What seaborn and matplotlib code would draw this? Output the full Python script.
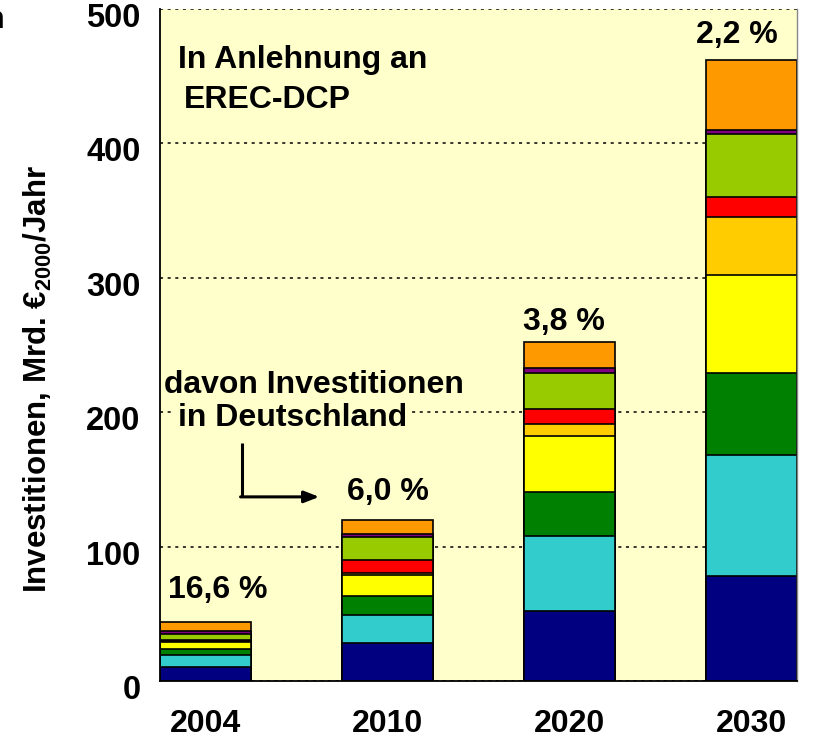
import pandas as pd
import numpy as np
import matplotlib
matplotlib.use("Agg")
import matplotlib.pyplot as plt
import matplotlib.transforms as mtransforms
import seaborn as sns

# Data, stacked bottom -> top
years = ["2004", "2010", "2020", "2030"]
slots = ["2004", " ", "2010", "  ", "2020", "   ", "2030"]  # empty slots between the bars
navy = [10.3, 28.0, 52.0, 78.3]
cyan = [9.0, 20.8, 56.0, 89.5]
green = [4.5, 14.4, 32.7, 61.0]
yellow = [5.2, 15.8, 41.7, 73.5]
gold = [0.8, 1.0, 8.6, 42.7]
red = [0.7, 10.0, 11.7, 15.0]
lightgreen = [4.2, 17.0, 26.8, 47.0]
purple = [2.7, 2.7, 3.5, 3.0]
orange = [6.2, 10.4, 19.3, 52.2]
shares = ["16,6 %", "6,0 %", "3,8 %", "2,2 %"]

layers = [
    ("navy", navy, "#000080"),
    ("cyan", cyan, "#33CCCC"),
    ("green", green, "#008000"),
    ("yellow", yellow, "#FFFF00"),
    ("gold", gold, "#FFCC00"),
    ("red", red, "#FF0000"),
    ("lightgreen", lightgreen, "#99CC00"),
    ("purple", purple, "#800080"),
    ("orange", orange, "#FF9900"),
]

df = pd.DataFrame({"Jahr": years})
running = np.zeros(len(years))
for name, vals, col in layers:
    running = running + np.array(vals)
    df[name] = running

sns.set_style("white")
plt.rcParams["font.family"] = ["Liberation Sans", "DejaVu Sans"]
plt.rcParams["font.weight"] = "bold"
plt.rcParams["text.color"] = "black"
plt.rcParams["axes.labelcolor"] = "black"
plt.rcParams["xtick.color"] = "black"
plt.rcParams["ytick.color"] = "black"
plt.rcParams["mathtext.fontset"] = "custom"
plt.rcParams["mathtext.rm"] = "Liberation Sans:bold"
plt.rcParams["mathtext.bf"] = "Liberation Sans:bold"

fig = plt.figure(figsize=(8.14, 7.42), dpi=100)
ax = fig.add_axes([0.1966, 0.0822, 0.7824, 0.9057])
ax.set_facecolor("#FFFFCC")

# draw cumulative bars from the top layer down so every segment shows
for name, vals, col in reversed(layers):
    sns.barplot(data=df, x="Jahr", y=name, order=slots, color=col, width=1.0,
                edgecolor="black", linewidth=1.2, saturation=1, errorbar=None, ax=ax)

ax.set_xlim(-0.5, 6.5)
ax.set_ylim(0, 500)
ax.set_axisbelow(True)
ax.set_yticks(np.arange(0, 501, 100))
ax.yaxis.grid(True, linestyle=(0, (2, 3)), color="black", linewidth=1.1)
ax.xaxis.grid(False)

# tick marks at slot borders, year labels at bar centres
ax.set_xticks(np.arange(-0.5, 6.6, 1.0))
ax.set_xticklabels([])
ax.set_xticks([0, 2, 4, 6], minor=True)
ax.set_xticklabels(years, minor=True, fontsize=23, fontweight="bold")
ax.tick_params(axis="x", which="major", length=8, width=1, color="black", direction="out")
ax.tick_params(axis="x", which="minor", length=0, pad=20)
ax.tick_params(axis="y", length=6, width=1, color="black", direction="out", pad=8,
               labelsize=23.5)
shift = mtransforms.ScaledTranslation(0, -6 / 100, fig.dpi_scale_trans)
for lab in ax.get_yticklabels():
    lab.set_fontweight("bold")
    lab.set_transform(lab.get_transform() + shift)

ax.set_xlabel("")
ax.set_ylabel(r"Investitionen, Mrd. €$_{\mathbf{2000}}$/Jahr", fontsize=22.5, fontweight="bold")
ax.yaxis.set_label_coords(-0.166, 0.45)

for side in ["left", "bottom"]:
    ax.spines[side].set_color("black")
    ax.spines[side].set_linewidth(1.3)
ax.spines["top"].set_visible(False)
ax.spines["right"].set_color("#888888")
ax.spines["right"].set_linewidth(1.0)

# annotations
ax.text(-0.30, 456, "In Anlehnung an", fontsize=23, fontweight="bold", va="baseline")
ax.text(-0.24, 426, "EREC-DCP", fontsize=23, fontweight="bold", va="baseline")

share_x = [0.13, 2.01, 3.94, 5.84]
share_y = [62, 135, 261, 475]
for xs, ys, s in zip(share_x, share_y, shares):
    ax.text(xs, ys, s, fontsize=23, fontweight="bold", ha="center", va="baseline",
            bbox=dict(facecolor="#FFFFCC", edgecolor="none", pad=1))

ax.text(-0.46, 214, "davon Investitionen", fontsize=23, fontweight="bold", va="baseline")
ax.text(-0.30, 190, "in Deutschland", fontsize=23, fontweight="bold", va="baseline",
        bbox=dict(facecolor="#FFFFCC", edgecolor="none", pad=3))

ax.plot([0.40, 0.40], [177, 137], color="black", linewidth=2.2, solid_capstyle="butt")
ax.annotate("", xy=(1.25, 137), xytext=(0.385, 137),
            arrowprops=dict(arrowstyle="-|>,head_length=0.9,head_width=0.35",
                            color="black", linewidth=2.2, shrinkA=0, shrinkB=0))

# cut-off glyph at the left edge of the original slide
fig.text(5 / 814, 1 - 28 / 742, "n", fontsize=22, fontweight="bold", ha="right", va="baseline")

fig.savefig("out.png", dpi=100)
